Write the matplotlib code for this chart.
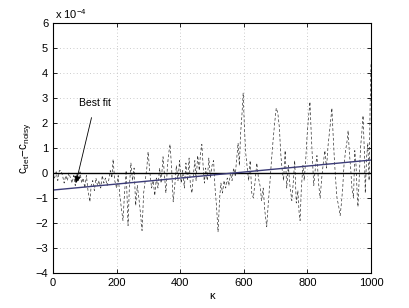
import matplotlib
matplotlib.use("Agg")
import matplotlib.pyplot as plt

plt.rcParams['font.family'] = ['Liberation Sans', 'DejaVu Sans']
plt.rcParams['mathtext.fontset'] = 'custom'
plt.rcParams['mathtext.rm'] = 'Liberation Sans'
plt.rcParams['mathtext.it'] = 'Liberation Sans'

# difference c_det - c_noisy, in units of 1e-4
kappa = [0, 5, 10, 15, 20, 25, 30, 35, 40, 45, 50, 55, 60, 65, 70, 75, 80, 85, 90, 95,
         100, 105, 110, 116, 120, 125, 130, 135, 140, 145, 150, 155, 160, 165, 170, 175,
         180, 185, 189, 194, 200, 205, 210, 215, 220, 225, 230, 236, 240, 245, 250, 255,
         260, 265, 270, 275, 280, 285, 290, 295, 299, 304, 310, 315, 320, 325, 330, 335,
         340, 346, 350, 355, 360, 364, 368, 373, 378, 383, 388, 393, 398, 403, 408, 413,
         418, 423, 428, 432, 437, 442, 446, 450, 455, 460, 464, 468, 472, 476, 480, 485,
         490, 495, 500, 505, 509, 514, 519, 524, 528, 533, 538, 543, 548, 553, 558, 563,
         568, 573, 578, 582, 586, 590, 594, 598, 602, 606, 610, 615, 620, 625, 630, 635,
         641, 646, 651, 656, 661, 666, 672, 677, 682, 687, 692, 697, 702, 707, 712, 716,
         720, 725, 730, 735, 740, 745, 751, 756, 760, 765, 770, 774, 777, 781, 786, 790,
         795, 799, 804, 808, 812, 816, 820, 825, 830, 835, 840, 845, 850, 855, 860, 865,
         870, 874, 877, 881, 885, 889, 893, 898, 903, 907, 911, 915, 920, 925, 928, 932,
         936, 940, 945, 949, 953, 956, 959, 963, 967, 971, 975, 979, 982, 986, 990, 994,
         997, 1000]
diff = [0.0, -0.2, 0.05, -0.3, 0.1, 0.1, -0.1, -0.4, -0.1, -0.3, 0.0, -0.2, -0.4, -0.1, -0.5, 0.0, -0.3, 0.05, -0.4, -0.2,
        -0.6, -0.1, -0.7, -1.15, -0.5, -0.3, -0.7, -0.2, -0.5, -0.3, -0.6, -0.1, -0.4, -0.2, -0.5, -0.3,
        0.1, -0.2, 0.55, -0.3, -0.6, -0.1, -0.9, -1.4, -1.9, -0.8, 0.1, -2.1, -0.6, 0.4, -0.3, 0.2,
        -1.3, -0.5, -1.0, -1.6, -2.3, -0.8, -0.3, 0.2, 0.85, 0.1, -0.6, -0.3, -0.9, -0.2, -0.6, 0.2,
        -0.4, 0.65, 0.0, -0.8, 0.3, 0.8, 1.15, 0.2, -1.15, -0.5, 0.3, -0.3, 0.5, -0.4, 0.1, -0.6,
        0.4, -0.3, 0.6, -0.5, -0.8, 0.0, 0.5, -0.3, 0.7, 0.1, 0.8, 1.15, 0.3, -0.4, 0.2, -0.3,
        0.6, -0.2, 0.3, 0.5, -0.5, -1.3, -2.35, -1.0, -0.4, -0.8, -0.3, -0.6, -0.2, -0.5, 0.0, -0.3,
        0.2, -0.1, 0.6, 1.2, 0.3, 1.6, 2.3, 3.2, 1.8, 0.8, 0.3, -0.3, 0.5, -0.8, -1.0, -0.4,
        0.4, -0.2, -0.5, -1.1, -0.6, -1.5, -2.15, -1.2, -0.4, 0.5, 1.3, 2.0, 2.6, 2.4, 1.8, 0.8,
        0.2, -0.3, 0.9, -0.6, 0.3, -0.5, -1.1, -0.3, 0.5, -1.2, -0.7, -1.6, -1.9, -0.6, 0.3, -0.3,
        0.6, 1.5, 2.3, 2.85, 1.6, 0.5, -0.5, 0.2, 0.7, -0.4, -1.0, -0.2, 0.4, 0.9, 0.2, 1.1,
        1.7, 2.2, 2.6, 1.5, 0.5, -0.3, -1.0, -1.3, -1.7, -1.2, -0.6, 0.3, 0.9, 1.3, 1.7, 0.8,
        0.2, -0.6, -1.0, 0.9, 0.3, -0.7, -1.35, -0.2, 1.0, 1.6, 2.3, 0.9, -0.8, 0.6, 1.2, -0.3,
        2.5, 4.4]

# best fit line end points
fit_x = [0, 1000]
fit_y = [-0.68, 0.52]

fig = plt.figure(figsize=(4.09, 3.08), dpi=100)
ax = fig.add_axes([0.1296, 0.1136, 0.7775, 0.8114])

ax.plot(kappa, diff, color='#333333', linestyle=(0, (4, 3)), linewidth=0.5)
ax.axhline(0, color='black', linewidth=1.0)
ax.plot(fit_x, fit_y, color='#3c3c78', linewidth=1.0)

ax.annotate('Best fit', xy=(72, -0.4), xytext=(132, 2.8),
            fontsize=7.5, ha='center', va='center',
            arrowprops=dict(arrowstyle='-|>', color='black', lw=0.6,
                            mutation_scale=10, shrinkA=5, shrinkB=0))

ax.set_xlim(0, 1000)
ax.set_ylim(-4, 6)
ax.set_xticks([0, 200, 400, 600, 800, 1000])
ax.set_yticks(range(-4, 7))
ax.grid(True, linestyle=(0, (1, 3)), color='#bbbbbb', linewidth=0.6)
ax.tick_params(direction='in', length=3, width=0.6, labelsize=8,
               top=True, right=True)
for s in ax.spines.values():
    s.set_linewidth(0.8)

ax.set_xlabel('κ', fontsize=8, labelpad=2)
ax.set_ylabel('c$_{\\mathrm{det}}$−c$_{\\mathrm{noisy}}$', fontsize=8.5, labelpad=2)
ax.text(0.005, 1.01, 'x 10$^{-4}$', transform=ax.transAxes, fontsize=8,
        ha='left', va='bottom')

fig.savefig('out.png', dpi=100)
